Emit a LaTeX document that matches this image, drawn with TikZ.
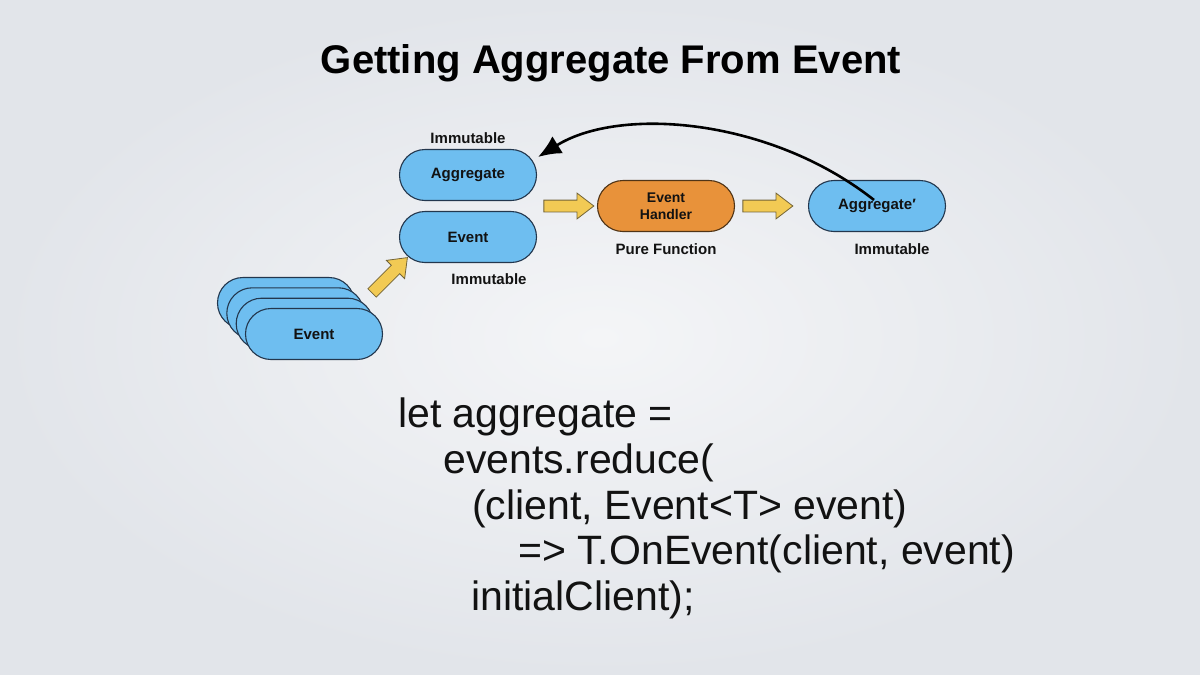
\documentclass[tikz,border=0pt]{standalone}
\usepackage{fontspec}
\setmainfont{Liberation Sans}
\usetikzlibrary{shapes.misc,shapes.arrows,arrows.meta,calc}
\definecolor{bgin}{RGB}{244,245,247}
\definecolor{bgout}{RGB}{226,229,234}
\definecolor{pillblue}{RGB}{110,190,240}
\definecolor{pillline}{RGB}{35,55,78}
\definecolor{pillorange}{RGB}{232,146,58}
\definecolor{orangeline}{RGB}{80,52,22}
\definecolor{arrowyellow}{RGB}{242,202,84}
\definecolor{arrowline}{RGB}{115,100,55}
\definecolor{ink}{RGB}{18,18,18}
\tikzset{
  pill/.style={rounded rectangle, minimum width=137pt, minimum height=51pt, inner sep=0pt,
    draw=pillline, line width=1.1pt, text=ink, font=\fontsize{15}{17}\selectfont\bfseries},
  bpill/.style={pill, fill=pillblue},
  opill/.style={pill, fill=pillorange, draw=orangeline, align=center, font=\fontsize{14}{17}\selectfont\bfseries},
  lbl/.style={text=ink, font=\fontsize{15}{17}\selectfont\bfseries, inner sep=0pt},
  yarrow/.style={single arrow, draw=arrowline, fill=arrowyellow, line width=0.8pt,
    minimum height=50pt, inner sep=5.5pt, single arrow head extend=7pt, single arrow tip angle=75},
  code/.style={anchor=base west, text=ink, inner sep=0pt, font=\fontsize{41}{46}\selectfont},
  curvearrow/.style={line width=2.6pt, draw=black, -{Latex[length=23pt,width=20pt]}},
}
\begin{document}
\begin{tikzpicture}[x=1pt,y=-1pt]
\useasboundingbox (0,0) rectangle (1200,675);
\shade[inner color=bgin, outer color=bgout] (0,0) rectangle (1200,675);

\node[anchor=base, text=black, inner sep=0pt, font=\fontsize{40}{46}\selectfont\bfseries] (title) at (611,73) {Getting Aggregate From Event};

% top nodes
\node[lbl] (imm1) at (468,138) {Immutable};
\node[bpill] (agg) at (468,175) {Aggregate};
\node[bpill] (ev) at (468,237) {Event};
\node[lbl] (imm2) at (489,279) {Immutable};
\node[opill] (eh) at (666,206) {Event\\Handler};
\node[lbl] (pf) at (666,249) {Pure Function};
\node[bpill] (aggp) at (877,206) {Aggregate′};
\node[lbl] (imm3) at (892,249) {Immutable};

% event stack
\node[bpill] (e4) at (286,303) {};
\node[bpill] (e3) at (295.3,313.3) {};
\node[bpill] (e2) at (304.7,323.7) {};
\node[bpill] (e1) at (314,334) {Event};

% yellow block arrows
\node[yarrow] (a1) at (565,206) {};
\node[yarrow] (a2) at (764,206) {};
\node[yarrow, rotate=45] (a3) at (387,278) {};

% curved return arrow
\draw[curvearrow] ([xshift=-3pt,yshift=6pt]aggp.center) .. controls (770,118) and (620,106) .. ([xshift=1pt,yshift=18pt]agg.east);

% code
\node[code] (c1) at (398,427) {let aggregate =};
\node[code] (c2) at (443,473) {events.reduce(};
\node[code] (c3) at (472,519) {(client, Event<T> event)};
\node[code] (c4) at (518,564) {=> T.OnEvent(client, event)};
\node[code] (c5) at (471,610) {initialClient);};
\end{tikzpicture}
\end{document}
